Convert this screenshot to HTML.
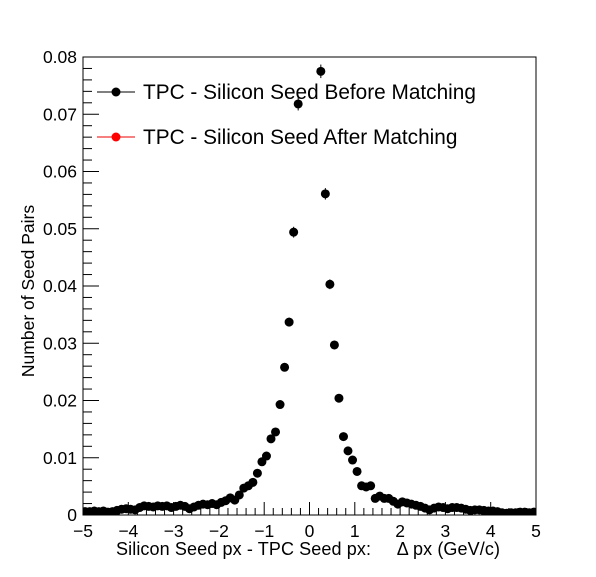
<!DOCTYPE html>
<html><head><meta charset="utf-8"><style>
body{margin:0;background:#fff;}
svg text{font-family:"Liberation Sans",sans-serif;}
</style></head><body>
<svg id="chart" width="596" height="572" xmlns="http://www.w3.org/2000/svg">
<defs><clipPath id="clip"><rect x="83" y="57" width="453" height="458"/></clipPath></defs>
<rect x="0" y="0" width="596" height="572" fill="#fff"/>
<g id="axes"></g>
<g id="marks" clip-path="url(#clip)"></g>
<rect x="83" y="57" width="453" height="458" fill="none" stroke="#000" stroke-width="1"/>
<g>
  <line x1="97" y1="92" x2="135" y2="92" stroke="#000"/>
  <circle cx="116" cy="92" r="4.5" fill="#000"/>
  <text x="143" y="99" font-size="20.8">TPC - Silicon Seed Before Matching</text>
  <line x1="97" y1="137" x2="135" y2="137" stroke="#e00"/>
  <circle cx="116" cy="137" r="4.5" fill="#f00"/>
  <text x="143" y="144" font-size="20.8">TPC - Silicon Seed After Matching</text>
</g>
<text transform="translate(34,291) rotate(-90)" text-anchor="middle" font-size="17.5">Number of Seed Pairs</text>
<text x="500" y="555" text-anchor="end" font-size="18" textLength="384" xml:space="preserve">Silicon Seed px - TPC Seed px:     Δ px (GeV/c)</text>
</svg>
<script>
const binCenters = [];
for (let i = 0; i < 100; i++) binCenters.push(-4.95 + i * 0.1);
const beforeValues = [
0.0006,0.0006,0.0007,0.0006,0.0007,0.0005,0.0006,0.0008,0.0010,0.0011,
0.0010,0.0009,0.0013,0.0016,0.0015,0.0014,0.0016,0.0015,0.0016,0.0013,
0.0015,0.0017,0.0015,0.0011,0.0014,0.0017,0.0019,0.0018,0.0020,0.0018,
0.0022,0.0025,0.0030,0.0026,0.0035,0.0047,0.0051,0.0057,0.0073,0.0093,
0.0103,0.0133,0.0145,0.0193,0.0258,0.0337,0.0494,0.0718,0.0900,0.0900,
0.0900,0.0900,0.0775,0.0561,0.0403,0.0297,0.0204,0.0137,0.0112,0.0096,
0.0076,0.0051,0.0049,0.0051,0.0029,0.0033,0.0029,0.0029,0.0024,0.0019,
0.0023,0.0021,0.0019,0.0017,0.0015,0.0012,0.0009,0.0012,0.0014,0.0013,
0.0011,0.0013,0.0013,0.0012,0.0010,0.0008,0.0009,0.0009,0.0008,0.0007,
0.0007,0.0006,0.0004,0.0003,0.0004,0.0004,0.0005,0.0005,0.0004,0.0005];
const xTickLabels = ["−5","−4","−3","−2","−1","0","1","2","3","4","5"];
const yTickLabels = ["0","0.01","0.02","0.03","0.04","0.05","0.06","0.07","0.08"];

const X0=83,X1=536,Y0=515,Y1=57;
const xScale = v => X0 + (v + 5) / 10 * (X1 - X0);
const yScale = v => Y0 - v / 0.08 * (Y0 - Y1);
const NS="http://www.w3.org/2000/svg";
const axes=document.getElementById('axes'), marks=document.getElementById('marks');
function mk(tag, attrs, parent){const e=document.createElementNS(NS,tag);for(const k in attrs)e.setAttribute(k,attrs[k]);parent.appendChild(e);return e;}

for (let i=0;i<=50;i++){
  const v=-5+i*0.2, x=xScale(v), major=(i%5===0);
  const t=mk('line',{x1:x,x2:x,y1:Y0,y2:Y0-(major?13:7),stroke:'#000'},axes);
  
  
}
xTickLabels.forEach((lab,i)=>{
  const t=mk('text',{x:xScale(-5+i),y:537,'text-anchor':'middle','font-size':'17.5'},axes);
  t.textContent=lab;
  
  
});
for (let i=0;i<=40;i++){
  const v=i*0.002, y=yScale(v), major=(i%5===0);
  const t=mk('line',{x1:X0,x2:X0+(major?16:9),y1:y,y2:y,stroke:'#000'},axes);
  
  
}
yTickLabels.forEach((lab,i)=>{
  const t=mk('text',{x:77,y:yScale(i*0.01)+6,'text-anchor':'end','font-size':'17.5'},axes);
  t.textContent=lab;
  
  
});
binCenters.forEach((c,i)=>{
  const v=beforeValues[i], x=xScale(c), y=yScale(v);
  const err=Math.sqrt(v/0.08)*0.0012;
  const g=mk('g',{},marks);
  
  
  mk('line',{x1:x,x2:x,y1:yScale(v+err),y2:yScale(Math.max(0,v-err)),stroke:'#000'},g);
  mk('circle',{cx:x,cy:y,r:4.5,fill:'#000'},g);
});
</script>
</body></html>
